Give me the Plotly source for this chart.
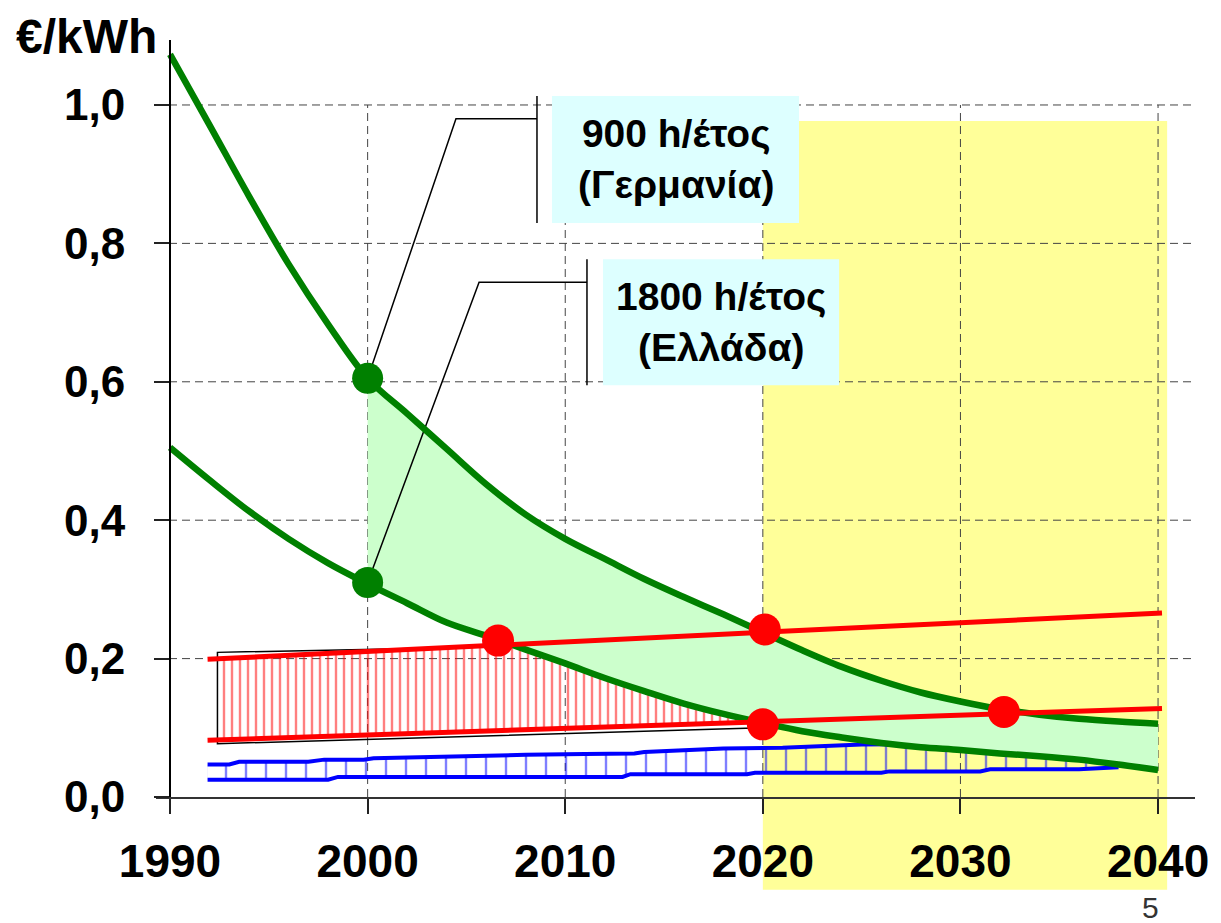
import plotly.graph_objects as go

# cost curves of PV electricity (€/kWh)
green_years = [1990, 1992, 1994, 1996, 1998, 2000, 2002, 2004, 2006, 2008, 2010,
               2012, 2014, 2016, 2018, 2020, 2022, 2024, 2026, 2028, 2030,
               2032, 2034, 2036, 2038, 2040]
cost_900h = [1.073, 0.971, 0.868, 0.770, 0.683, 0.605, 0.554, 0.503, 0.452, 0.408, 0.373,
             0.344, 0.315, 0.289, 0.264, 0.238, 0.212, 0.188, 0.168, 0.151, 0.138,
             0.127, 0.119, 0.113, 0.109, 0.106]
cost_1800h = [0.505, 0.458, 0.413, 0.373, 0.338, 0.308, 0.280, 0.252, 0.233, 0.213, 0.193,
              0.172, 0.153, 0.135, 0.120, 0.107, 0.095, 0.086, 0.078, 0.072, 0.068,
              0.063, 0.059, 0.054, 0.047, 0.039]

# retail electricity price band (red)
red_years = [1991.9, 2040.2]
red_upper = [0.199, 0.266]
red_lower = [0.082, 0.128]
hatch_years = [1992.4, 2020.0]
hatch_top = [0.200, 0.238]
hatch_bottom = [0.083, 0.107]
outline_years = [2006.6, 1992.4, 1992.4, 2020.0]
outline_vals = [0.217, 0.209, 0.077, 0.100]

# conventional generation cost band (blue)
blue_low_years = [1991.9, 1998.0, 1998.5, 2012.9, 2013.3, 2019.2, 2019.6, 2026.0,
                  2026.4, 2031.0, 2031.5, 2036.0, 2038.0]
blue_low = [0.025, 0.025, 0.029, 0.029, 0.033, 0.033, 0.035, 0.035,
            0.037, 0.037, 0.040, 0.040, 0.043]
blue_up_years = [1991.9, 1993.0, 1993.5, 1997.0, 1997.8, 1999.8, 2000.3, 2003.0,
                 2006.0, 2008.0, 2011.0, 2013.5, 2014.0, 2016.0, 2018.0, 2021.0,
                 2023.0, 2025.0, 2030.0, 2038.0]
blue_up = [0.047, 0.047, 0.051, 0.051, 0.054, 0.054, 0.056, 0.058,
           0.059, 0.061, 0.062, 0.063, 0.065, 0.067, 0.070, 0.071,
           0.074, 0.076, 0.077, 0.077]

# grid-parity points
red_pt_years = [2006.6, 2020.1, 2020.0, 2032.2]
red_pt_vals = [0.226, 0.242, 0.105, 0.123]
green_pt_years = [2000.0, 2000.0]
green_pt_vals = [0.605, 0.310]

# callouts
leader1_x = [2000.0, 2004.47, 2008.57]
leader1_y = [0.605, 0.980, 0.980]
bar1_x = [2008.57, 2008.57]
bar1_y = [0.8295, 1.013]
leader2_x = [2000.0, 2005.64, 2011.10]
leader2_y = [0.310, 0.744, 0.744]
bar2_x = [2011.10, 2011.10]
bar2_y = [0.595, 0.777]
box1 = [2009.33, 2021.83, 0.8295, 1.013]
box2 = [2011.91, 2023.86, 0.595, 0.777]
label1 = '900 h/έτος<br>(Γερμανία)'
label2 = '1800 h/έτος<br>(Ελλάδα)'

x_ticks = [1990, 2000, 2010, 2020, 2030, 2040]
y_ticks = [0.0, 0.2, 0.4, 0.6, 0.8, 1.0]
y_tick_labels = ['0,0', '0,2', '0,4', '0,6', '0,8', '1,0']

x_range = [1989.29, 2041.87]
y_range = [0.0, 1.0939]
FONT = 'Liberation Sans, Arial, sans-serif'


def px(year):
    return (year - x_range[0]) / (x_range[1] - x_range[0])


def py(val):
    return (val - y_range[0]) / (y_range[1] - y_range[0])


fig = go.Figure()

# blue ladder
fig.add_trace(go.Scatter(x=blue_low_years, y=blue_low, mode='lines',
                         line=dict(color='#0000ff', width=4)))
fig.add_trace(go.Scatter(x=blue_up_years, y=blue_up, mode='lines', fill='tonexty',
                         fillcolor='rgba(0,0,0,0)',
                         fillpattern=dict(shape='|', fgcolor='#0000ff', size=20, solidity=0.12,
                                          bgcolor='rgba(0,0,0,0)'),
                         line=dict(color='#0000ff', width=4)))

# red hatched band
fig.add_trace(go.Scatter(x=hatch_years + hatch_years[::-1], y=hatch_top + hatch_bottom[::-1],
                         mode='lines', fill='toself', fillcolor='rgba(0,0,0,0)',
                         fillpattern=dict(shape='|', fgcolor='#ff0000', size=8, solidity=0.3,
                                          bgcolor='rgba(0,0,0,0)'),
                         line=dict(width=0)))
fig.add_trace(go.Scatter(x=outline_years, y=outline_vals, mode='lines',
                         line=dict(color='black', width=1.5)))

# green band from 2000 on
i0 = green_years.index(2000)
fig.add_trace(go.Scatter(x=green_years[i0:], y=cost_1800h[i0:], mode='lines',
                         line=dict(width=0, shape='spline')))
fig.add_trace(go.Scatter(x=green_years[i0:], y=cost_900h[i0:], mode='lines', fill='tonexty',
                         fillcolor='#ccffcc', line=dict(width=0, shape='spline')))

# leader lines
for lx, ly in [(leader1_x, leader1_y), (bar1_x, bar1_y), (leader2_x, leader2_y), (bar2_x, bar2_y)]:
    fig.add_trace(go.Scatter(x=lx, y=ly, mode='lines', line=dict(color='black', width=1.5)))

# curves
for vals in [cost_900h, cost_1800h]:
    fig.add_trace(go.Scatter(x=green_years, y=vals, mode='lines',
                             line=dict(color='#008000', width=6.5, shape='spline')))
for vals in [red_upper, red_lower]:
    fig.add_trace(go.Scatter(x=red_years, y=vals, mode='lines',
                             line=dict(color='#ff0000', width=5)))

fig.add_trace(go.Scatter(x=green_pt_years, y=green_pt_vals, mode='markers',
                         marker=dict(color='#008000', size=31)))
fig.add_trace(go.Scatter(x=red_pt_years, y=red_pt_vals, mode='markers',
                         marker=dict(color='#ff0000', size=32)))

# background shapes: future zone, grid, callout boxes
shapes = [dict(type='rect', xref='paper', yref='paper', x0=px(2020.0), x1=px(2040.46),
               y0=py(-0.134), y1=py(0.977), fillcolor='#ffff99', line_width=0, layer='below')]
for v in y_ticks[1:]:
    shapes.append(dict(type='line', xref='paper', yref='y', x0=0, x1=1, y0=v, y1=v,
                       line=dict(color='#444', width=1, dash='8px,5px'), layer='below'))
for t in x_ticks[1:]:
    shapes.append(dict(type='line', xref='x', yref='y', x0=t, x1=t, y0=0, y1=1.0,
                       line=dict(color='#444', width=1, dash='8px,5px'), layer='below'))
for b in [box1, box2]:
    shapes.append(dict(type='rect', xref='x', yref='y', x0=b[0], x1=b[1], y0=b[2], y1=b[3],
                       fillcolor='#ddffff', line_width=0, layer='below'))

annotations = [
    dict(x=(box1[0] + box1[1]) / 2, y=(box1[2] + box1[3]) / 2, text=label1, showarrow=False,
         font=dict(family=FONT, size=39, color='black', weight='bold')),
    dict(x=(box2[0] + box2[1]) / 2, y=(box2[2] + box2[3]) / 2, text=label2, showarrow=False,
         font=dict(family=FONT, size=39, color='black', weight='bold')),
    dict(xref='paper', yref='paper', x=-0.137, y=1.005, xanchor='left', yanchor='middle',
         text='€/kWh', showarrow=False, font=dict(family=FONT, size=48, color='black', weight='bold')),
    dict(xref='paper', yref='paper', x=px(2039.6), y=py(-0.160), xanchor='center', yanchor='middle',
         text='5', showarrow=False, font=dict(family=FONT, size=30, color='#333')),
]

# the page body adds an 8 px offset, so margins are shifted to compensate
fig.update_layout(
    width=1221, height=923,
    margin=dict(l=148, r=34, t=32, b=134),
    paper_bgcolor='white', plot_bgcolor='white',
    showlegend=False,
    shapes=shapes,
    annotations=annotations,
    xaxis=dict(range=x_range, tickvals=x_ticks, showgrid=False, zeroline=False,
               showline=True, linecolor='#333', linewidth=2,
               ticks='outside', ticklen=15, tickwidth=2, tickcolor='#222',
               ticklabelstandoff=8,
               tickfont=dict(family=FONT, size=46, color='black', weight='bold')),
    yaxis=dict(range=y_range, tickvals=y_ticks, ticktext=y_tick_labels, showgrid=False,
               zeroline=False, anchor='free', position=px(1990),
               showline=True, linecolor='black', linewidth=2,
               ticks='outside', ticklen=15, tickwidth=2, tickcolor='#222',
               ticklabelstandoff=20,
               tickfont=dict(family=FONT, size=44, color='black', weight='bold')),
)

fig.write_html('out.html')
